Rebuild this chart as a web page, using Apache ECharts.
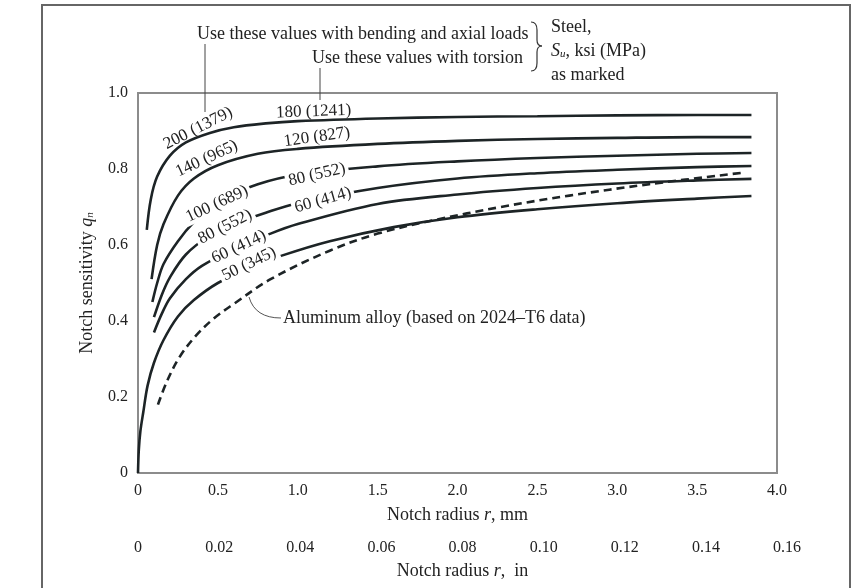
<!DOCTYPE html>
<html>
<head>
<meta charset="utf-8">
<script src="https://cdn.jsdelivr.net/npm/echarts@6/dist/echarts.min.js"></script>
<style>
  html, body { margin: 0; padding: 0; background: #fff; }
  #chart { width: 866px; height: 588px; }
</style>
</head>
<body>
<div id="chart"></div>
<script>
// notch radius r (mm), notch sensitivity q
const steel200 = [[0.055, 0.64], [0.08, 0.72], [0.12, 0.78], [0.2, 0.835], [0.3, 0.87], [0.45, 0.895], [0.6, 0.91], [0.8, 0.92], [1.0, 0.926], [1.5, 0.933], [2.0, 0.937], [2.5, 0.939], [3.0, 0.941], [3.5, 0.942], [3.84, 0.942]];
const steel140 = [[0.085, 0.51], [0.12, 0.6], [0.16, 0.655], [0.25, 0.73], [0.35, 0.775], [0.5, 0.81], [0.75, 0.84], [1.0, 0.853], [1.5, 0.866], [2.0, 0.874], [2.5, 0.879], [3.0, 0.882], [3.5, 0.884], [3.84, 0.884]];
const steel100 = [[0.09, 0.45], [0.12, 0.5], [0.16, 0.55], [0.25, 0.61], [0.35, 0.66], [0.5, 0.715], [0.75, 0.76], [1.0, 0.785], [1.5, 0.807], [2.0, 0.82], [2.5, 0.829], [3.0, 0.835], [3.5, 0.84], [3.84, 0.842]];
const steel80 = [[0.1, 0.41], [0.15, 0.47], [0.2, 0.515], [0.3, 0.575], [0.45, 0.625], [0.6, 0.655], [0.8, 0.685], [1.0, 0.71], [1.5, 0.75], [2.0, 0.775], [2.5, 0.789], [3.0, 0.798], [3.5, 0.805], [3.84, 0.808]];
const steel60 = [[0.1, 0.37], [0.15, 0.42], [0.2, 0.46], [0.3, 0.51], [0.4, 0.545], [0.6, 0.59], [0.8, 0.625], [1.0, 0.655], [1.5, 0.708], [2.0, 0.733], [2.5, 0.75], [3.0, 0.762], [3.5, 0.77], [3.84, 0.774]];
const steel50 = [[0, 0], [0.005, 0.06], [0.015, 0.11], [0.033, 0.16], [0.06, 0.23], [0.1, 0.29], [0.16, 0.35], [0.25, 0.412], [0.35, 0.455], [0.5, 0.5], [0.7, 0.54], [0.9, 0.572], [1.2, 0.61], [1.6, 0.647], [2.0, 0.673], [2.5, 0.694], [3.0, 0.71], [3.5, 0.722], [3.84, 0.729]];
const aluminum = [[0.125, 0.18], [0.18, 0.24], [0.26, 0.305], [0.36, 0.36], [0.47, 0.405], [0.6, 0.445], [0.83, 0.51], [1.2, 0.585], [1.5, 0.63], [1.85, 0.665], [2.27, 0.7], [2.7, 0.73], [3.2, 0.76], [3.78, 0.79]];

const mmTicks = [0, 0.5, 1.0, 1.5, 2.0, 2.5, 3.0, 3.5, 4.0];
const inTicks = [0, 0.02, 0.04, 0.06, 0.08, 0.10, 0.12, 0.14, 0.16];
const qTicks = [0, 0.2, 0.4, 0.6, 0.8, 1.0];

// curve labels: [text, r, q, angle, masks the curve]
const curveLabels = [
  ["200 (1379)", 0.376, 0.907, 27, false],
  ["180 (1241)", 1.10, 0.951, 2, false],
  ["140 (965)", 0.43, 0.827, 25, false],
  ["120 (827)", 1.12, 0.884, 8, false],
  ["100 (689)", 0.495, 0.708, 25, true],
  ["80 (552)", 1.12, 0.785, 13, true],
  ["80 (552)", 0.545, 0.648, 27, true],
  ["60 (414)", 1.158, 0.718, 16, true],
  ["60 (414)", 0.632, 0.595, 25, true],
  ["50 (345)", 0.695, 0.55, 26, true]
];

const serif = '"Liberation Serif", "DejaVu Serif", serif';
const ink = "#1d2426";
const txt = "#222";

function curve(name, data, dashed) {
  return {
    name: name,
    type: "line",
    data: data,
    smooth: 0.35,
    symbol: "none",
    silent: true,
    lineStyle: { color: ink, width: 2.6, type: dashed ? [8, 5] : "solid" }
  };
}

const italic = size => ({ fontStyle: "italic", fontFamily: serif, fontSize: size, color: txt });

const chart = echarts.init(document.getElementById("chart"));

const option = {
  animation: false,
  backgroundColor: "#fff",
  grid: [
    { left: 138, right: 89, top: 93, bottom: 115, show: true, borderColor: "#8c8c8c", borderWidth: 2 },
    { left: 138, width: 649, top: 93, bottom: 115, show: false }
  ],
  xAxis: [
    {
      type: "value",
      gridIndex: 0,
      min: 0,
      max: 4,
      interval: 0.5,
      axisLine: { show: false },
      axisTick: { show: false },
      splitLine: { show: false },
      axisLabel: {
        margin: 10,
        color: txt,
        fontFamily: serif,
        fontSize: 16,
        formatter: v => (v === mmTicks[0] ? "0" : v.toFixed(1))
      },
      name: "Notch radius {i|r}, mm",
      nameLocation: "middle",
      nameGap: 33,
      nameTextStyle: { color: txt, fontFamily: serif, fontSize: 18, rich: { i: italic(18) } }
    },
    {
      type: "value",
      gridIndex: 1,
      min: 0,
      max: 0.16,
      interval: 0.02,
      offset: 57,
      axisLine: { show: false },
      axisTick: { show: false },
      splitLine: { show: false },
      axisLabel: {
        margin: 10,
        color: txt,
        fontFamily: serif,
        fontSize: 16,
        formatter: v => (v === inTicks[0] ? "0" : v.toFixed(2))
      },
      name: "Notch radius {i|r},  in",
      nameLocation: "middle",
      nameGap: 32,
      nameTextStyle: { color: txt, fontFamily: serif, fontSize: 18, rich: { i: italic(18) } }
    }
  ],
  yAxis: [
    {
      type: "value",
      gridIndex: 0,
      min: qTicks[0],
      max: qTicks[qTicks.length - 1],
      interval: 0.2,
      axisLine: { show: false },
      axisTick: { show: false },
      splitLine: { show: false },
      axisLabel: {
        margin: 10,
        color: txt,
        fontFamily: serif,
        fontSize: 16,
        formatter: v => (v === 0 ? "0" : v.toFixed(1))
      },
      name: "Notch sensitivity {q|q}{s|n}",
      nameLocation: "middle",
      nameGap: 42,
      nameTextStyle: {
        color: txt,
        fontFamily: serif,
        fontSize: 18,
        rich: {
          q: italic(18),
          s: Object.assign(italic(11), { padding: [7, 0, 0, 0] })
        }
      }
    },
    { type: "value", gridIndex: 1, min: 0, max: 1, show: false }
  ],
  series: [
    curve("200 (1379)", steel200),
    curve("140 (965)", steel140),
    curve("100 (689)", steel100),
    curve("80 (552)", steel80),
    curve("60 (414)", steel60),
    curve("50 (345)", steel50),
    curve("Aluminum alloy", aluminum, true)
  ]
};

chart.setOption(option);

// annotations: rotated curve labels placed through the data scales, plus header notes
const graphics = curveLabels.map(([text, r, q, angle, mask]) => {
  const p = chart.convertToPixel({ gridIndex: 0 }, [r, q]);
  return {
    type: "text",
    x: p[0],
    y: p[1],
    rotation: (angle * Math.PI) / 180,
    z: 100,
    style: {
      text: text,
      font: "17px " + serif,
      fill: txt,
      align: "center",
      verticalAlign: "middle",
      backgroundColor: mask ? "#fff" : "transparent",
      padding: [0, 3]
    }
  };
});

const note = (text, x, y) => ({
  type: "text", x: x, y: y, z: 100,
  style: { text: text, font: "18px " + serif, fill: txt, align: "left", verticalAlign: "middle" }
});
const thin = { fill: "none", stroke: "#333", lineWidth: 1.2 };
const bez = (x1, y1, cx, cy, x2, y2) => ({
  type: "bezierCurve", z: 100,
  shape: { x1: x1, y1: y1, cpx1: cx, cpy1: cy, x2: x2, y2: y2 },
  style: thin
});
const seg = (x1, y1, x2, y2) => ({
  type: "line", z: 100, shape: { x1: x1, y1: y1, x2: x2, y2: y2 }, style: thin
});

graphics.push(
  { type: "rect", z: 0, shape: { x: 42, y: 5, width: 808, height: 600 }, style: { fill: "none", stroke: "#666", lineWidth: 2 } },
  note("Use these values with bending and axial loads", 197, 34),
  note("Use these values with torsion", 312, 58),
  { type: "line", z: 100, shape: { x1: 205, y1: 44, x2: 205, y2: 112 }, style: { stroke: "#444", lineWidth: 1 } },
  { type: "line", z: 100, shape: { x1: 320, y1: 68, x2: 320, y2: 100 }, style: { stroke: "#444", lineWidth: 1 } },
  // brace
  bez(531, 22, 537, 22, 537, 30),
  seg(537, 30, 537, 40),
  bez(537, 40, 537, 46, 542, 46),
  bez(542, 46, 537, 46, 537, 52),
  seg(537, 52, 537, 63),
  bez(537, 63, 537, 71, 531, 71),
  note("Steel,", 551, 27),
  {
    type: "text", x: 551, y: 51, z: 100,
    style: {
      text: "{i|S}{s|u}, ksi (MPa)",
      font: "18px " + serif, fill: txt, align: "left", verticalAlign: "middle",
      rich: {
        i: { fontStyle: "italic", fontSize: 18, fontFamily: serif, fill: txt },
        s: { fontStyle: "italic", fontSize: 11, fontFamily: serif, fill: txt, padding: [7, 0, 0, 0] }
      }
    }
  },
  note("as marked", 551, 75),
  {
    type: "bezierCurve", z: 100,
    shape: { x1: 249, y1: 297, cpx1: 255, cpy1: 318, x2: 281, y2: 318 },
    style: { fill: "none", stroke: "#555", lineWidth: 1 }
  },
  note("Aluminum alloy (based on 2024\u2013T6 data)", 283, 318)
);

chart.setOption({ graphic: graphics });
</script>
</body>
</html>
